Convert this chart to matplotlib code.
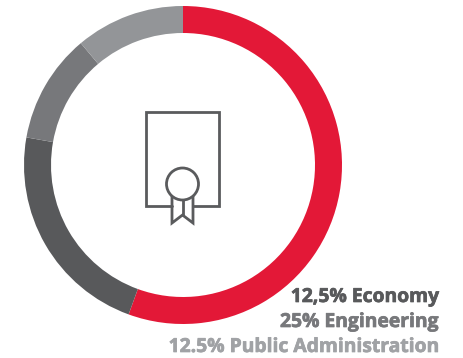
import matplotlib
matplotlib.use("Agg")
import matplotlib.pyplot as plt
import matplotlib.patheffects as pe
from matplotlib.patches import Circle

WIDTH = 463
HEIGHT = 358

# slice sizes (degrees, clockwise from the top)
slice_values = [200, 80, 40, 40]
slice_colors = ["#e31837", "#58595b", "#77787b", "#939598"]

label_texts = ["12,5% Economy", "25% Engineering", "12.5% Public Administration"]
label_colors = ["#58595b", "#77787b", "#a0a2a5"]
label_y = [302, 327, 352]

ICON = "#5a5b5d"


def flip(y):
    return HEIGHT - y


def draw_icon(ax):
    lw = 2.0
    style = dict(color=ICON, lw=lw, solid_capstyle="round", solid_joinstyle="miter", zorder=3)
    # document outline
    ax.plot([172, 146, 146, 219, 219, 193],
            [flip(206), flip(206), flip(112), flip(112), flip(206), flip(206)], **style)
    # ribbon
    ax.plot([172, 172, 182.5, 193, 193],
            [flip(196), flip(223), flip(215), flip(223), flip(196)], **style)
    ax.plot([182.5, 182.5], [flip(199), flip(215)], **style)
    ax.add_patch(Circle((182.5, flip(184)), 16, fc="white", ec=ICON, lw=lw, zorder=4))


def main():
    plt.rcParams["font.family"] = ["Open Sans", "DejaVu Sans"]
    fig = plt.figure(figsize=(WIDTH / 100, HEIGHT / 100), dpi=100)
    ax = fig.add_axes([0, 0, 1, 1])

    ax.pie(
        slice_values,
        colors=slice_colors,
        startangle=90,
        counterclock=False,
        center=(183, flip(165)),
        radius=159,
        wedgeprops=dict(width=27, linewidth=0),
        frame=True,
    )
    ax.set_xlim(0, WIDTH)
    ax.set_ylim(0, HEIGHT)
    ax.set_aspect("equal")
    ax.axis("off")

    draw_icon(ax)

    for text, color, y in zip(label_texts, label_colors, label_y):
        t = ax.text(439, flip(y), text, color=color, fontsize=13.9, fontweight="bold",
                    ha="right", va="baseline")
        # the original face is heavier than Open Sans Bold
        t.set_path_effects([pe.withStroke(linewidth=0.5, foreground=color)])

    fig.savefig("out.png", dpi=100, facecolor="white")


if __name__ == "__main__":
    main()
